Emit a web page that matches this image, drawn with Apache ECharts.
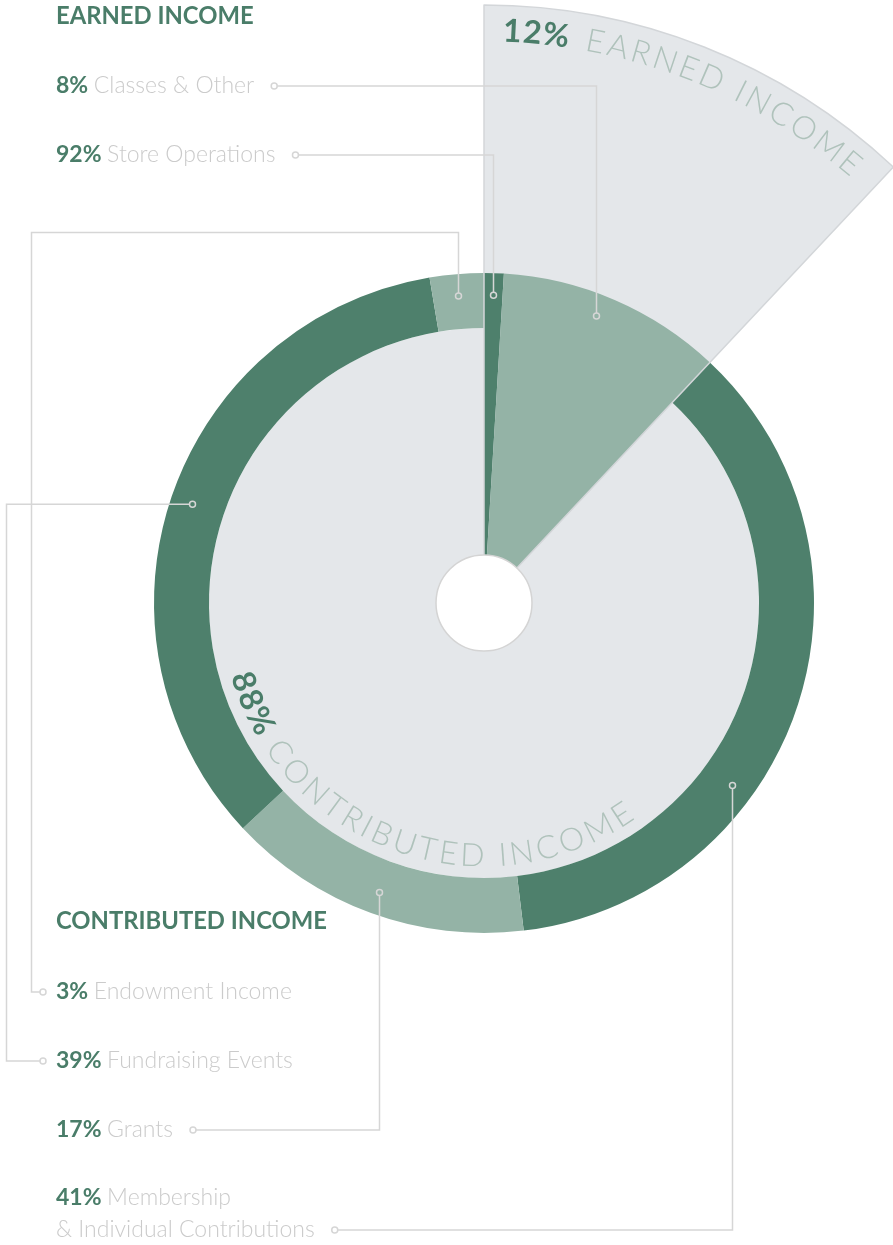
<!DOCTYPE html>
<html>
<head>
<meta charset="utf-8">
<title>Income breakdown</title>
<script src="https://cdn.jsdelivr.net/npm/echarts@6/dist/echarts.min.js"></script>
<style>
  html, body { margin: 0; padding: 0; background: #fff; }
  #chart { width: 893px; height: 1245px; }
</style>
</head>
<body>
<div id="chart"></div>
<script>
// data
const groupNames = ['EARNED INCOME', 'CONTRIBUTED INCOME'];
const groupShare = [12, 88];
const earnedNames = ['Classes & Other', 'Store Operations'];
const earnedPct = [8, 92];
const contribNames = ['Endowment Income', 'Fundraising Events', 'Grants', 'Membership\n& Individual Contributions'];
const contribPct = [3, 39, 17, 41];

// look
const CX = 484, CY = 603;
const R_HOLE = 48, R_IN = 275, R_OUT = 330, R_EARN = 598, R_PIN = 308;
const DARK = '#4e806c', LIGHT = '#94b3a6', PANEL = '#e4e7ea', EDGE = '#d3d6d9', LINE = '#d6d6d6';
const GREEN_TEXT = '#4a7d69', GREY_TEXT = '#cbcbcb', ARC_TEXT = '#afc2bb';
const FONT = 'Lato';

const earnedColors = [DARK, LIGHT];
const contribColors = [LIGHT, DARK, LIGHT, DARK];
const ringOrder = [3, 2, 1, 0]; // clockwise after the earned wedge

const ctx = document.createElement('canvas').getContext('2d');
function measure(text, weight, size) {
  ctx.font = weight + ' ' + size + 'px ' + FONT;
  return ctx.measureText(text).width;
}
function polar(deg, r) {
  const t = deg * Math.PI / 180;
  return [CX + r * Math.sin(t), CY - r * Math.cos(t)];
}
const fill = c => ({ color: c, borderWidth: 0 });
const NONE = { color: 'rgba(0,0,0,0)', borderWidth: 0 };

const earnedTotal = groupShare[0], contribTotal = groupShare[1];
const earnedParts = earnedPct.map((p, i) => ({
  name: earnedNames[i], value: earnedTotal * p / 100, itemStyle: fill(earnedColors[i])
}));
const ringParts = ringOrder.map(i => ({
  name: contribNames[i], value: contribTotal * contribPct[i] / 100, itemStyle: fill(contribColors[i])
}));

// segment angles (deg clockwise from 12 o'clock)
let acc = 0;
const earnedSegs = earnedParts.map(p => { const s = acc; acc += p.value * 3.6; return [s, acc]; });
const ringSegs = [];
ringOrder.forEach(i => { const s = acc; acc += contribTotal * contribPct[i] / 100 * 3.6; ringSegs[i] = [s, acc]; });

function pie(id, radius, data, z) {
  return {
    type: 'pie', id, center: [CX, CY], radius, startAngle: 90, clockwise: true,
    silent: true, z, avoidLabelOverlap: false, minAngle: 0,
    label: { show: false }, labelLine: { show: false }, emphasis: { disabled: true },
    data
  };
}

const series = [
  pie('panel', [0, R_EARN], [{ value: earnedTotal, itemStyle: fill(PANEL) }, { value: contribTotal, itemStyle: NONE }], 1),
  pie('disc', [R_HOLE, R_IN], [{ value: earnedTotal, itemStyle: NONE }, { value: contribTotal, itemStyle: fill(PANEL) }], 2),
  pie('earned', [R_HOLE, R_OUT], earnedParts.concat([{ value: contribTotal, itemStyle: NONE }]), 3),
  pie('ring', [R_IN, R_OUT], [{ value: earnedTotal, itemStyle: NONE }].concat(ringParts), 3),
  pie('outline', [0, R_EARN], [
    { value: earnedTotal, itemStyle: { color: 'rgba(0,0,0,0)', borderColor: EDGE, borderWidth: 1.5 } },
    { value: contribTotal, itemStyle: NONE }
  ], 4),
  pie('hole', [0, R_HOLE], [{ value: 1, itemStyle: { color: '#fff', borderColor: '#d4d4d4', borderWidth: 1.5 } }], 5)
];

const elements = [];

// curved captions
function arcText(pieces, r, outward) {
  pieces.forEach(pc => {
    const chars = Array.from(pc.text);
    const ws = chars.map(c => measure(c, pc.weight, pc.size));
    const sum = ws.reduce((s, w) => s + w, 0);
    let spacing = pc.spacing || 0;
    if (pc.to != null) {
      spacing = (Math.abs(pc.to - pc.from) * Math.PI / 180 * r - sum) / (chars.length - 1);
    }
    let adv = 0;
    chars.forEach((c, i) => {
      const d = (adv + ws[i] / 2) / r * 180 / Math.PI;
      const th = outward ? pc.from + d : pc.from - d;
      const t = th * Math.PI / 180;
      const p = polar(th, r);
      elements.push({
        type: 'text', x: p[0], y: p[1], rotation: outward ? -t : Math.PI - t, z: 20, silent: true,
        style: { text: c, fontFamily: FONT, fontWeight: pc.weight, fontSize: pc.size, fill: pc.color,
                 align: 'center', verticalAlign: 'middle' }
      });
      adv += ws[i] + spacing;
    });
  });
}
arcText([
  { text: groupShare[0] + '%', weight: 700, size: 32, color: GREEN_TEXT, from: 1.9, spacing: 1.5 },
  { text: groupNames[0], weight: 300, size: 32, color: ARC_TEXT, from: 10.3, to: 40.7 }
], 572, true);
arcText([
  { text: groupShare[1] + '%', weight: 700, size: 32, color: GREEN_TEXT, from: 254, spacing: 1 },
  { text: groupNames[1], weight: 300, size: 32, color: ARC_TEXT, from: 236.4, to: 144.8 }
], 253, false);

// left-hand legend
const LX = 56, FS = 23;
function heading(text, y) {
  elements.push({ type: 'text', x: LX, y, z: 20, silent: true,
    style: { text, fontFamily: FONT, fontWeight: 700, fontSize: 23.8, fill: GREEN_TEXT, verticalAlign: 'middle' } });
}
function row(pct, name, y) {
  const pctText = pct + '%';
  const wb = measure(pctText + ' ', 700, FS);
  const lines = name.split('\n');
  elements.push({ type: 'text', x: LX, y, z: 20, silent: true,
    style: { text: pctText, fontFamily: FONT, fontWeight: 700, fontSize: FS, fill: GREEN_TEXT, verticalAlign: 'middle' } });
  let end = 0;
  lines.forEach((ln, k) => {
    const x = k === 0 ? LX + wb : LX;
    const yy = y + k * 32;
    elements.push({ type: 'text', x, y: yy, z: 20, silent: true,
      style: { text: ln, fontFamily: FONT, fontWeight: 300, fontSize: FS, fill: GREY_TEXT, verticalAlign: 'middle' } });
    end = x + measure(ln, 300, FS);
  });
  return { end, lastY: y + (lines.length - 1) * 32 };
}

function trimEnds(pts, r) {
  const cut = (a, b) => {
    const dx = b[0] - a[0], dy = b[1] - a[1], L = Math.hypot(dx, dy) || 1;
    return [a[0] + dx / L * r, a[1] + dy / L * r];
  };
  const n = pts.length;
  const out = pts.slice();
  out[0] = cut(pts[0], pts[1]);
  out[n - 1] = cut(pts[n - 1], pts[n - 2]);
  return out;
}
function dot(p) {
  elements.push({ type: 'circle', z: 15, silent: true, shape: { cx: p[0], cy: p[1], r: 3 },
    style: { stroke: LINE, lineWidth: 1.5, fill: 'none' } });
}
function leader(info, seg, frac, side, gutter, turnY) {
  const ang = seg[0] + (seg[1] - seg[0]) * frac;
  const a = polar(ang, R_PIN);
  a[0] = Math.round(a[0]) + 0.5;
  let pts;
  if (side === 'right') {
    const c = [info.end + 20, info.lastY];
    pts = [c, [a[0], c[1]], a];
  } else {
    const c = [LX - 13, info.lastY];
    const ty = turnY == null ? a[1] : turnY;
    pts = [c, [gutter, c[1]], [gutter, ty]];
    if (turnY != null) pts.push([a[0], ty]);
    pts.push(a);
  }
  elements.push({ type: 'polyline', z: 14, silent: true, shape: { points: trimEnds(pts, 3) },
    style: { stroke: LINE, lineWidth: 1.5, fill: null } });
  dot(pts[0]);
  dot(pts[pts.length - 1]);
}

heading(groupNames[0], 16);
const r0 = row(earnedPct[0], earnedNames[0], 86);
const r1 = row(earnedPct[1], earnedNames[1], 155);
leader(r0, earnedSegs[1], 0.45, 'right');
leader(r1, earnedSegs[0], 0.5, 'right');

heading(groupNames[1], 921);
const c0 = row(contribPct[0], contribNames[0], 992);
const c1 = row(contribPct[1], contribNames[1], 1061);
const c2 = row(contribPct[2], contribNames[2], 1130);
const c3 = row(contribPct[3], contribNames[3], 1198);
leader(c0, ringSegs[0], 0.5, 'left', 31.5, 232.5);
leader(c1, ringSegs[1], 0.5, 'left', 6.5);
leader(c2, ringSegs[2], 0.5, 'right');
leader(c3, ringSegs[3], 0.64, 'right');

const chart = echarts.init(document.getElementById('chart'));
chart.setOption({
  animation: false,
  backgroundColor: '#fff',
  series,
  graphic: { elements }
});
window.addEventListener('resize', () => chart.resize());
</script>
</body>
</html>
